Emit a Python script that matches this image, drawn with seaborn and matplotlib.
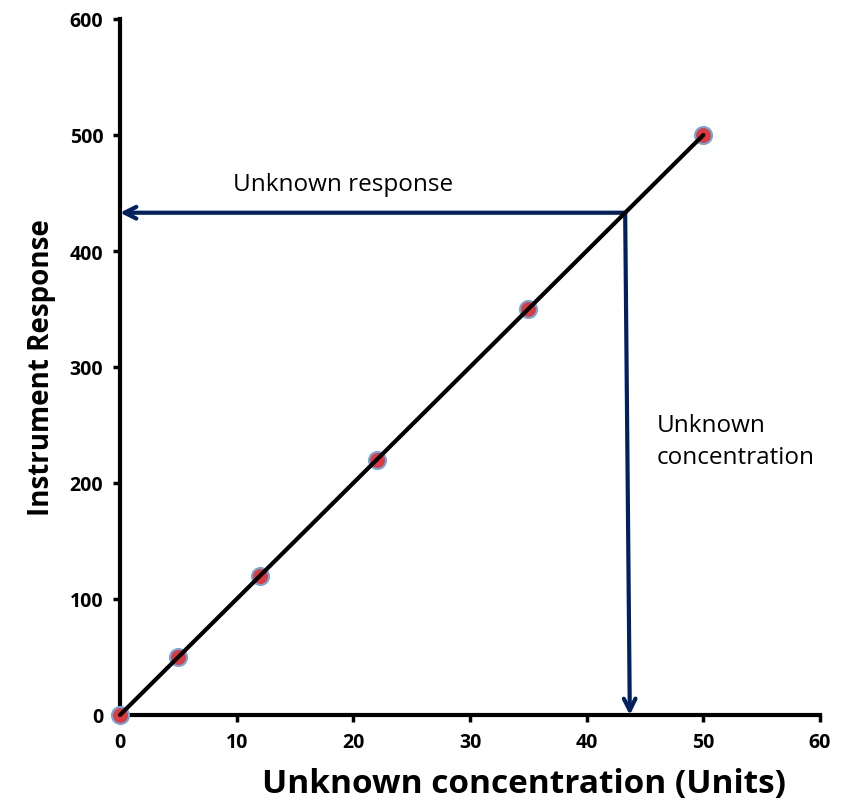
import matplotlib
matplotlib.use("Agg")
import matplotlib.pyplot as plt
import seaborn as sns
import pandas as pd

concentration = [0, 5, 12, 22, 35, 50]
response = [0, 50, 120, 220, 350, 500]
x_ticks = [0, 10, 20, 30, 40, 50, 60]
y_ticks = [0, 100, 200, 300, 400, 500, 600]
unknown_conc = 43.3
unknown_resp = 433

df = pd.DataFrame({"conc": concentration, "resp": response})

sns.set_theme(style="ticks")
plt.rcParams['font.family'] = ['Open Sans', 'DejaVu Sans']
plt.rcParams['text.color'] = 'black'
plt.rcParams['axes.labelcolor'] = 'black'
plt.rcParams['xtick.color'] = 'black'
plt.rcParams['ytick.color'] = 'black'

fig = plt.figure(figsize=(8.41, 8.03), dpi=100)
ax = fig.add_axes([120/841, 1 - 716/803, 700/841, 696/803])

sns.scatterplot(data=df, x="conc", y="resp", ax=ax, s=150, color="#E03A3E",
                edgecolor="#6FA8DC", linewidth=1.5, zorder=3, clip_on=False)
sns.lineplot(data=df, x="conc", y="resp", ax=ax, color="black", linewidth=3,
             zorder=4, clip_on=False)

navy = "#002060"
ax.annotate("", xy=(0, unknown_resp), xytext=(unknown_conc, unknown_resp),
            arrowprops=dict(arrowstyle="->,head_length=0.7,head_width=0.35",
                            color=navy, lw=3, shrinkA=0, shrinkB=0),
            annotation_clip=False, zorder=2)
ax.annotate("", xy=(43.7, 0), xytext=(unknown_conc, unknown_resp),
            arrowprops=dict(arrowstyle="->,head_length=0.7,head_width=0.35",
                            color=navy, lw=3, shrinkA=0, shrinkB=0),
            annotation_clip=False, zorder=2)

ax.text(9.7, 458, "Unknown response", fontsize=17.5, color="black", va="center", ha="left")
ax.text(46.0, 236, "Unknown\nconcentration", fontsize=17.5, color="black",
        va="center", ha="left", linespacing=1.45)

ax.set_xlim(0, 60)
ax.set_ylim(0, 600)
ax.set_xticks(x_ticks)
ax.set_yticks(y_ticks)
ax.set_xticklabels([str(v) for v in x_ticks], fontsize=14, fontweight="bold")
ax.set_yticklabels([str(v) for v in y_ticks], fontsize=14, fontweight="bold")
ax.tick_params(axis="both", direction="out", length=5, width=2.5, color="black", pad=7)
ax.set_xlabel("Unknown concentration (Units)", fontsize=24, fontweight="bold")
ax.set_ylabel("Instrument Response", fontsize=20, fontweight="bold", labelpad=10)
ax.xaxis.set_label_coords((524 - 120) / 700, -0.074)

sns.despine(ax=ax)
for side in ["left", "bottom"]:
    ax.spines[side].set_linewidth(3)
    ax.spines[side].set_color("black")
ax.set_facecolor("white")
if ax.get_legend():
    ax.get_legend().remove()

fig.savefig("out.png", dpi=100, facecolor="white")
